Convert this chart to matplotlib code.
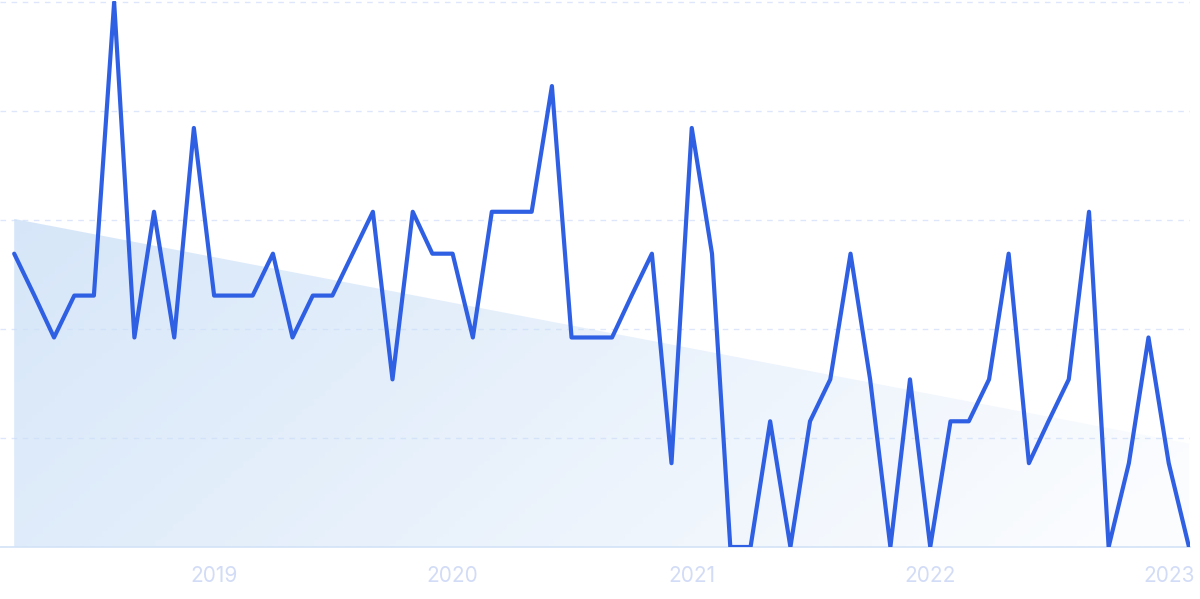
import matplotlib.pyplot as plt
import matplotlib.dates as mdates
import numpy as np
import pandas as pd
from matplotlib.patches import Polygon

# monthly values, Mar 2018 .. Feb 2023
months = pd.date_range('2018-03-01', periods=60, freq='MS')
values = [7, 6, 5, 6, 6, 13, 5, 8, 5, 10,
          6, 6, 6, 7, 5, 6, 6, 7, 8, 4,
          8, 7, 7, 5, 8, 8, 8, 11, 5, 5,
          5, 6, 7, 2, 10, 7, 0, 0, 3, 0,
          3, 4, 7, 4, 0, 4, 0, 3, 3, 4,
          7, 2, 3, 4, 8, 0, 2, 5, 2, 0]
tick_years = ['2019', '2020', '2021', '2022', '2023']

plt.rcParams['font.family'] = ['Inter', 'DejaVu Sans']

fig = plt.figure(figsize=(12, 5.99), dpi=100)
ax = fig.add_axes([0, 52 / 599, 1190 / 1200, 546 / 599])

x = mdates.date2num(months)
y = np.array(values, dtype=float)

# trend area with gradient (top-left strongest, fading to bottom-right)
k, b = np.polyfit(x, y, 1)
trend = k * x + b
poly = Polygon([(x[0], 0), (x[0], trend[0]), (x[-1], trend[-1]), (x[-1], 0)],
               closed=True, facecolor='none', edgecolor='none')
ax.add_patch(poly)
gx, gy = np.meshgrid(np.linspace(0, 1, 200), np.linspace(0, 1, 100))
t = np.clip(0.8 * gx + 0.25 * gy, 0, 1)
img = np.zeros((100, 200, 4))
img[..., 0] = 0.80
img[..., 1] = 0.88
img[..., 2] = 0.97
img[..., 3] = 0.80 - 0.72 * t
im = ax.imshow(img, extent=(x[0], x[-1], 0, trend.max()), origin='upper',
               aspect='auto', zorder=1)
im.set_clip_path(poly)

ax.plot(x, y, color='#2f5fe3', lw=3.0, zorder=3, solid_joinstyle='round',
        solid_capstyle='round')

ax.set_ylim(0, 13.03)
ax.set_xlim(x[0] - 0.7 * (x[1] - x[0]), x[-1] + 0.05 * (x[1] - x[0]))
ax.set_yticks(np.linspace(0, 13, 6))
ax.yaxis.grid(True, color='#dde6fb', linestyle=(0, (4, 4)), linewidth=1)
ax.set_axisbelow(True)
ax.tick_params(axis='y', left=False, labelleft=False)

jan = [mdates.date2num(pd.Timestamp(yr + '-01-01')) for yr in tick_years]
ax.set_xticks(jan)
ax.set_xticklabels(tick_years, color='#d2dcf6', fontsize=15)
ax.tick_params(axis='x', length=0, pad=14)

for s in ['top', 'right', 'left']:
    ax.spines[s].set_visible(False)
ax.spines['bottom'].set_color('#d3e3f7')
ax.spines['bottom'].set_linewidth(1.2)

fig.savefig('out.png', dpi=100)
